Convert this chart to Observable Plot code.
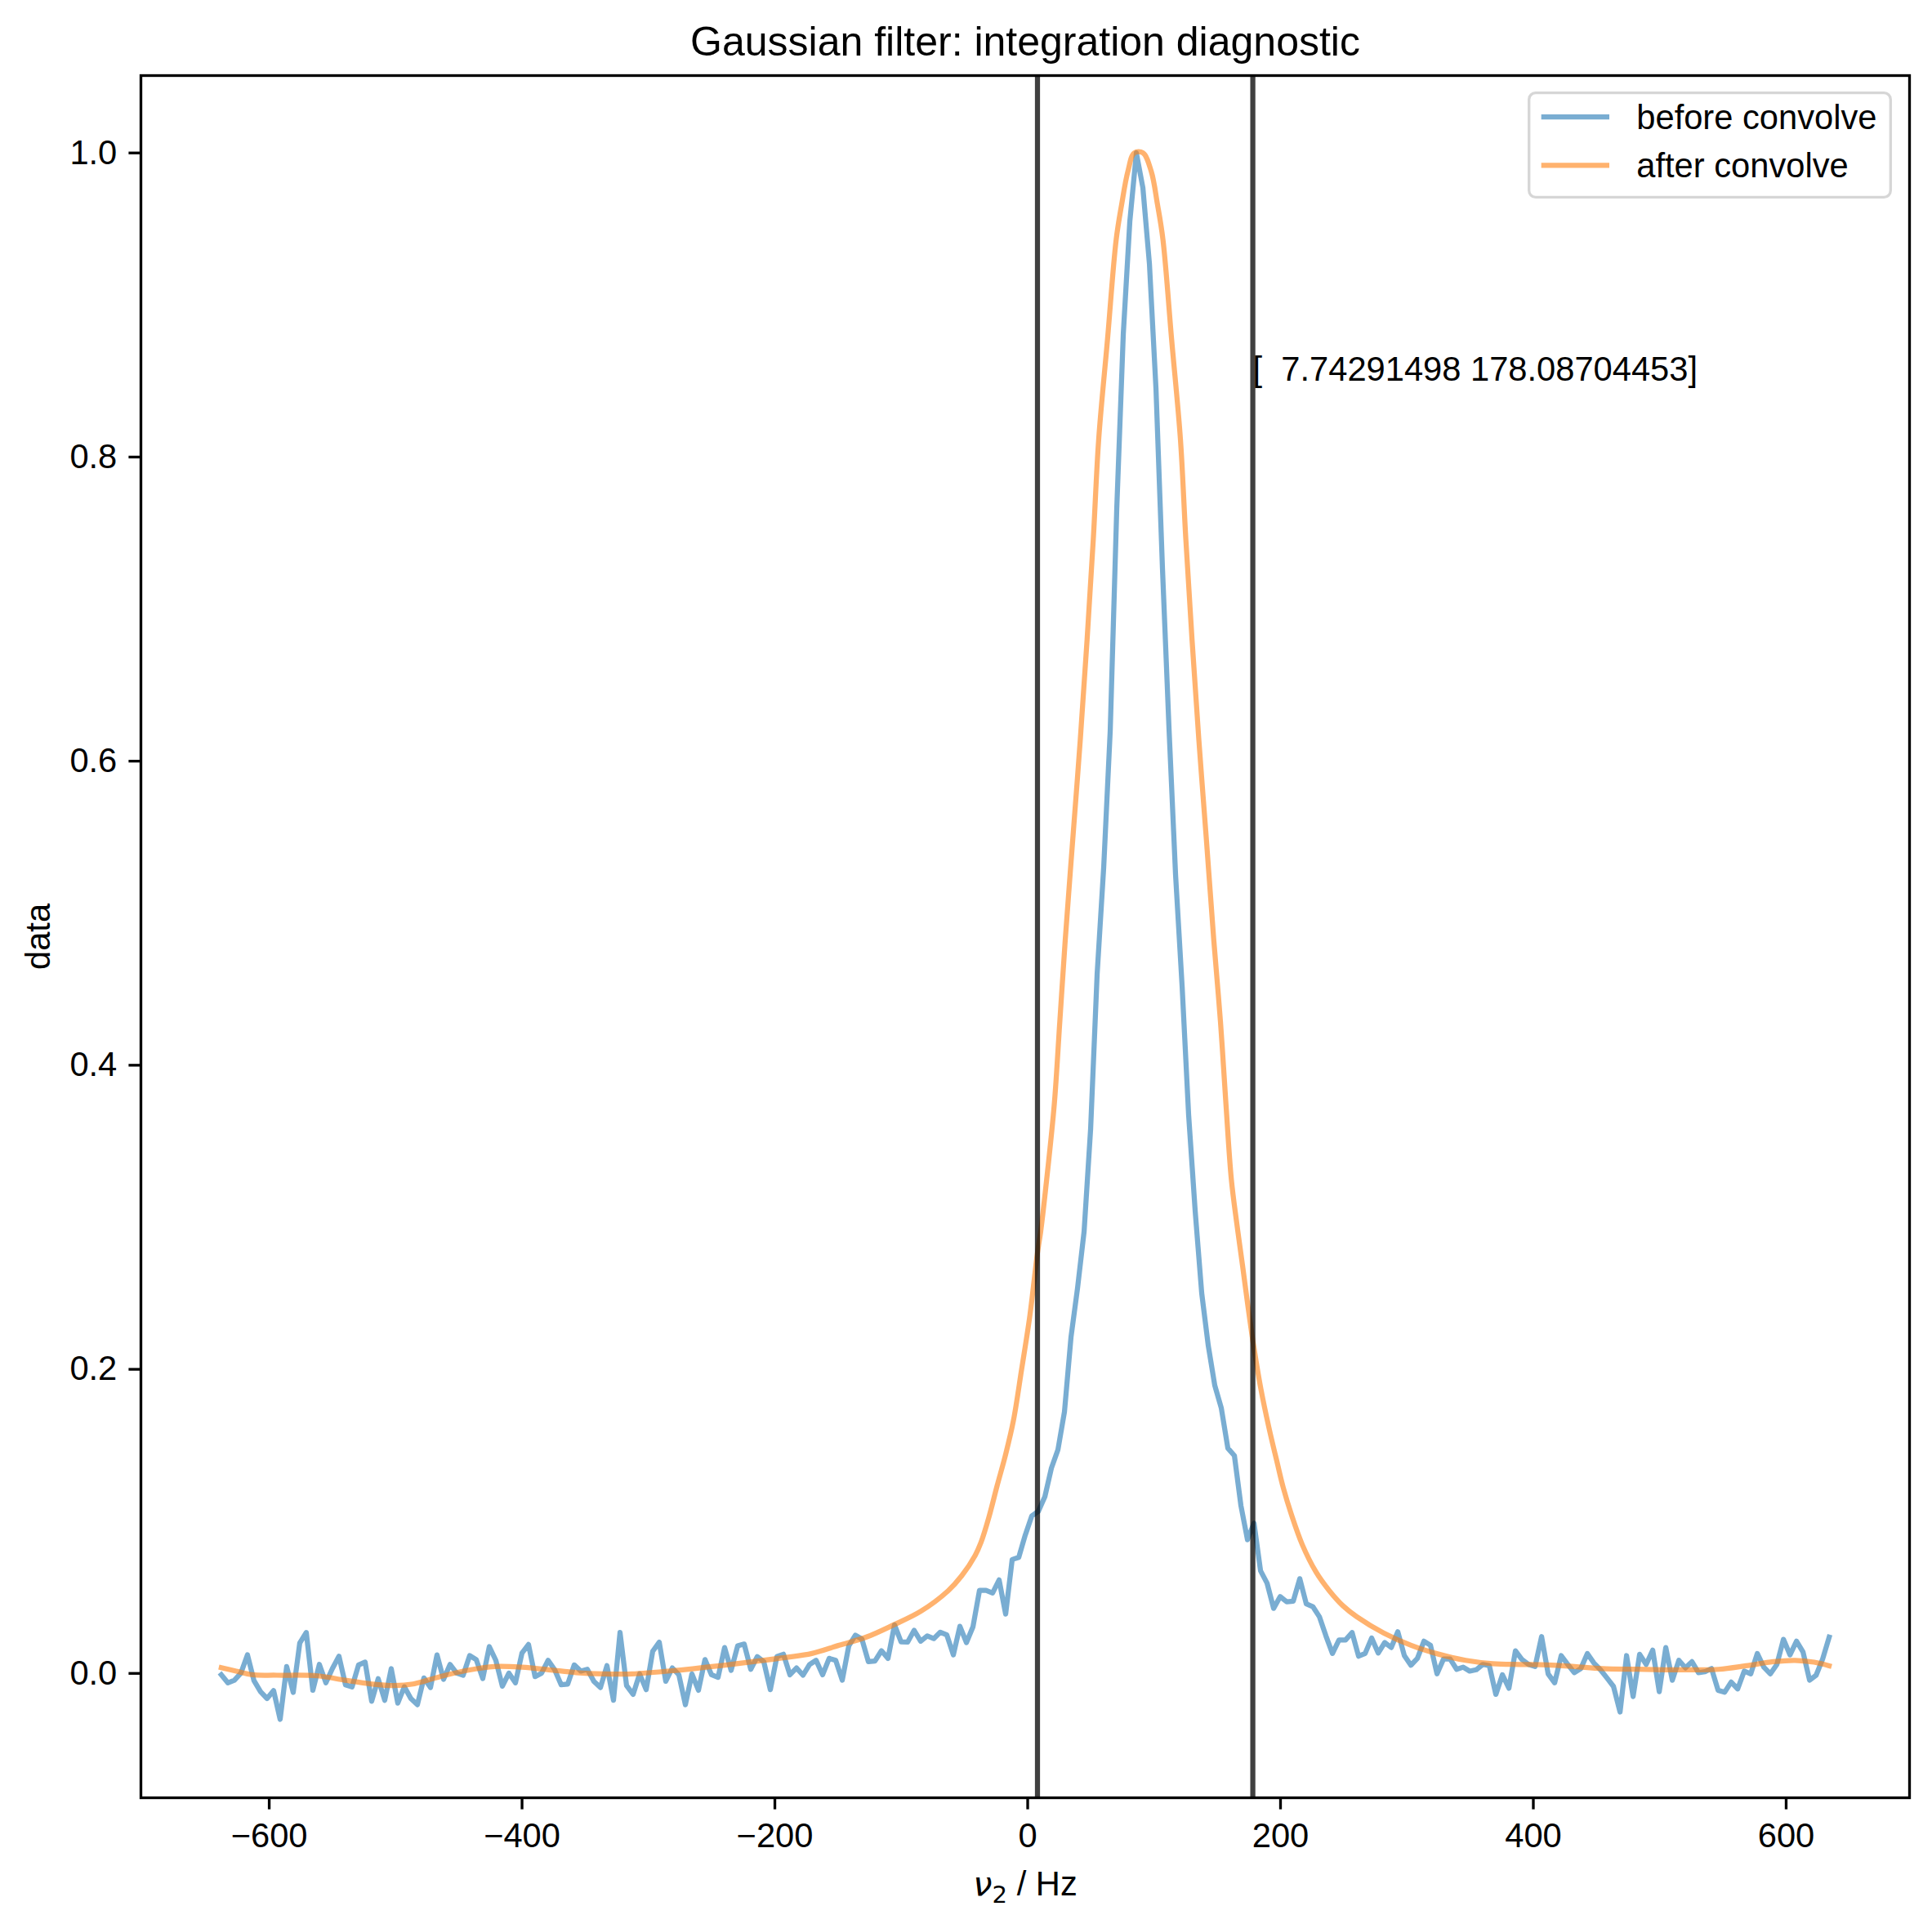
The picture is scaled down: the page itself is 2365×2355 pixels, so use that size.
<!DOCTYPE html>
<html>
<head>
<meta charset="utf-8">
<script src="https://cdn.jsdelivr.net/npm/d3@7"></script>
<script src="https://cdn.jsdelivr.net/npm/@observablehq/plot@0.6"></script>
<style>
  html, body { margin: 0; padding: 0; background: white; }
  #wrap { position: relative; width: 2365px; height: 2355px; font-family: "Liberation Sans", Arial, sans-serif; }
  #legend { position: absolute; left: 1870px; top: 112px; }
</style>
</head>
<body>
<div id="wrap"></div>
<script>
// ---------- data ----------
const titleText = "Gaussian filter: integration diagnostic";
const yLabelText = "data";
const xLabelText = "ν2 / Hz";

const xTicks = [-600, -400, -200, 0, 200, 400, 600];
const yTicks = [0.0, 0.2, 0.4, 0.6, 0.8, 1.0];

const seriesNames = ["before convolve", "after convolve"];
const seriesColors = ["#1f77b4", "#ff7f0e"];

// integration bounds (vertical lines + annotation)
const bounds = [7.74291498, 178.08704453];
const annotY = 0.85;

// "before convolve": evenly spaced frequency grid
const beforeStart = -637.9;
const beforeStep = 5.1705;
const beforeY = [
 -0.0009,-0.0062,-0.0045,0.0002,0.0122,-0.0048,-0.012,-0.0165,-0.0113,-0.0302,
 0.0045,-0.0125,0.0199,0.0269,-0.0111,0.0059,-0.0062,0.0032,0.0113,-0.0075,
 -0.0089,0.0056,0.0074,-0.0183,-0.0035,-0.0177,0.0031,-0.0195,-0.0088,-0.0165,
 -0.0206,-0.003,-0.0093,0.0122,-0.0039,0.0059,0.0002,-0.0012,0.0117,0.0091,
 -0.0034,0.0176,0.0086,-0.0084,0.0002,-0.0062,0.0134,0.019,-0.0021,0.0002,
 0.0086,0.0024,-0.0075,-0.007,0.0056,0.0015,0.0027,-0.0052,-0.0093,0.0051,
 -0.0177,0.0269,-0.008,-0.0138,-0.0003,-0.0107,0.0145,0.0206,-0.0052,0.0036,
 -0.0009,-0.0206,-0.0003,-0.0111,0.0091,-0.0009,-0.0026,0.017,0.002,0.0181,
 0.0193,0.0027,0.011,0.0077,-0.0107,0.011,0.0126,-0.0009,0.0036,-0.0012,
 0.0059,0.0086,-0.0009,0.0099,0.0086,-0.0045,0.0181,0.0251,0.0226,0.0077,
 0.0081,0.0149,0.0099,0.0319,0.0208,0.0206,0.0283,0.0212,0.0247,0.0229,
 0.0271,0.0253,0.0122,0.031,0.0203,0.0306,0.0546,0.0546,0.0529,0.0615,
 0.039,0.0749,0.0763,0.091,0.1036,0.1066,0.1162,0.135,0.1471,0.1721,
 0.2212,0.2534,0.2905,0.358,0.46,0.53,0.62,0.766,0.881,0.955,
 1.0,0.977,0.927,0.845,0.726,0.621,0.525,0.452,0.367,0.304,
 0.25,0.2156,0.1893,0.1744,0.1481,0.1432,0.1103,0.0879,0.0988,0.0675,
 0.0593,0.0428,0.0505,0.0471,0.0475,0.0623,0.0457,0.0439,0.0373,0.0247,
 0.0131,0.022,0.022,0.0269,0.0113,0.0131,0.0233,0.0134,0.0203,0.017,
 0.0274,0.0117,0.0054,0.0099,0.0212,0.0185,-0.0003,0.0095,0.0095,0.0027,
 0.0041,0.0015,0.0024,0.0059,0.0051,-0.0138,-0.0009,-0.0098,0.0149,0.0091,
 0.0059,0.0045,0.0242,-0.0003,-0.0062,0.0117,0.0059,0.0005,0.0032,0.0131,
 0.0068,0.0024,-0.003,-0.0086,-0.0254,0.0117,-0.0152,0.0126,0.0059,0.0153,
 -0.012,0.017,-0.0045,0.0086,0.0036,0.0077,0.0005,0.0011,0.0032,-0.0111,
 -0.0124,-0.0057,-0.0102,0.0015,-0.0003,0.0131,0.0041,-0.0003,0.0059,0.0224,
 0.0122,0.0212,0.014,-0.0045,-0.0012,0.0095,0.0239
];

// "after convolve": smooth curve sampled at these frequencies
const afterX = [-637.9,-626.2,-613.3,-593.9,-561.6,-540.1,-518.6,-501.4,-486.3,-464.8,
 -443.3,-421.7,-400.2,-378.7,-357.1,-335.6,-313.0,-278.3,-235.3,-192.2,
 -170.7,-149.1,-127.6,-106.1,-84.5,-63.0,-52.2,-41.5,-37.0,-30.6,
 -24.2,-17.7,-11.3,-4.8,1.7,7.7,10.3,15.7,21.1,25.4,
 29.7,35.6,41.6,47.0,51.9,56.2,63.1,70.0,74.3,79.3,
 84.3,91.2,97.7,102.7,107.0,113.9,120.8,125.1,130.0,135.4,
 141.4,147.2,152.5,156.8,161.1,165.4,170.0,174.0,178.1,184.5,
 191.0,197.4,202.1,208.6,217.2,228.0,238.7,249.5,260.3,281.8,
 303.3,324.9,346.4,368.0,389.5,411.0,432.6,454.1,482.1,503.7,
 525.2,546.7,568.3,589.8,607.0,622.1,634.0];
const afterY = [0.0038,0.0015,-0.0009,-0.0012,-0.0016,-0.0045,-0.007,-0.008,-0.007,-0.0021,
 0.002,0.0045,0.0041,0.0024,0.0005,-0.0003,-0.0003,0.002,0.0059,0.0104,
 0.0131,0.0185,0.0239,0.0319,0.0409,0.0543,0.0642,0.0777,0.086,0.103,
 0.1234,0.1432,0.1662,0.2,0.2352,0.2764,0.2907,0.3301,0.3749,0.4286,
 0.4824,0.548,0.614,0.68,0.746,0.812,0.877,0.943,0.966,0.988,
 1.0,1.0,0.988,0.966,0.943,0.877,0.812,0.746,0.68,0.614,
 0.548,0.4824,0.4286,0.3749,0.325,0.296,0.268,0.243,0.219,0.187,
 0.161,0.1385,0.1224,0.1045,0.0847,0.0668,0.0543,0.0444,0.0373,0.0265,
 0.0185,0.0127,0.0086,0.0064,0.0059,0.0056,0.0045,0.0032,0.0027,0.0024,
 0.0024,0.0027,0.005,0.0077,0.0086,0.0074,0.005];

// ---------- build tables ----------
const beforeData = beforeY.map((y, i) => ({x: beforeStart + i * beforeStep, y}));
const afterData = afterX.map((x, i) => ({x, y: afterY[i]}));
const annotText = "[\u00a0\u00a0" + bounds[0] + " " + bounds[1] + "]";

const FS = 41.67;       // 10pt @ 300dpi
const LW = 6.25;        // 1.5pt
const SW = 3.33;        // 0.8pt
const fmtX = d => (d < 0 ? "\u2212" + Math.abs(d) : String(d));

const chart = Plot.plot({
  width: 2365,
  height: 2355,
  marginLeft: 172,
  marginRight: 28,
  marginTop: 92,
  marginBottom: 155,
  style: {fontFamily: '"Liberation Sans", Arial, sans-serif', fontSize: FS + "px", color: "black", background: "white", overflow: "visible"},
  x: {domain: [-701.5, 697.6]},
  y: {domain: [-0.0818, 1.0509]},
  marks: [
    Plot.line(beforeData, {x: "x", y: "y", stroke: seriesColors[0], strokeOpacity: 0.6, strokeWidth: LW, strokeLinecap: "square", strokeLinejoin: "round"}),
    Plot.line(afterData, {x: "x", y: "y", curve: "catmull-rom", stroke: seriesColors[1], strokeOpacity: 0.6, strokeWidth: LW, strokeLinecap: "square", strokeLinejoin: "round"}),
    Plot.ruleX(bounds, {stroke: "black", strokeOpacity: 0.75, strokeWidth: LW}),
    Plot.text([annotText], {x: bounds[1], y: annotY, text: d => d, textAnchor: "start", lineAnchor: "bottom", fontSize: FS, fill: "black"}),
    Plot.frame({stroke: "black", strokeWidth: SW}),
    Plot.axisX({ticks: xTicks, tickFormat: fmtX, tickSize: 14.6, tickPadding: 16.4, strokeWidth: SW, label: null, fontSize: FS}),
    Plot.axisY({ticks: yTicks, tickFormat: d => d.toFixed(1), tickSize: 14.6, tickPadding: 14.6, strokeWidth: SW, label: null, fontSize: FS}),
    Plot.text([titleText], {frameAnchor: "top", dy: -25, textAnchor: "middle", lineAnchor: "bottom", text: d => d, fontSize: 50, fill: "black"}),
    Plot.text([yLabelText], {frameAnchor: "left", dx: -125, rotate: -90, textAnchor: "middle", lineAnchor: "middle", text: d => d, fontSize: FS, fill: "black"}),
    Plot.text([xLabelText], {frameAnchor: "bottom", dy: 119, textAnchor: "middle", lineAnchor: "bottom", text: d => d, fontSize: FS, fill: "black"})
  ]
});

// mathtext-like x label: italic nu with subscript 2
d3.select(chart).selectAll("text").filter(function() { return this.textContent === xLabelText; })
  .each(function() {
    const t = d3.select(this);
    t.text(null);
    t.append("tspan").attr("font-family", '"DejaVu Sans"').attr("font-style", "italic").text("ν");
    t.append("tspan").attr("font-family", '"DejaVu Sans"').attr("font-size", (FS * 0.7) + "px").attr("dy", "9").text("2");
    t.append("tspan").attr("dy", "-9").text(" / Hz");
  });

document.getElementById("wrap").appendChild(chart);

// legend (matplotlib style, upper right)
const legW = 446, legH = 131, rowH = 59.3, row0 = 31;
const leg = d3.select("#wrap").append("svg").attr("id", "legend")
  .attr("width", legW).attr("height", legH)
  .style("font-family", '"Liberation Sans", Arial, sans-serif');
leg.append("rect").attr("x", 1.7).attr("y", 1.7).attr("width", legW - 3.4).attr("height", legH - 3.4)
  .attr("rx", 8).attr("fill", "rgba(255,255,255,0.8)").attr("stroke", "rgba(204,204,204,0.8)").attr("stroke-width", 3.33);
seriesNames.forEach((name, i) => {
  const y = row0 + i * rowH;
  leg.append("line").attr("x1", 16.7).attr("x2", 100).attr("y1", y).attr("y2", y)
    .attr("stroke", seriesColors[i]).attr("stroke-opacity", 0.6).attr("stroke-width", LW).attr("stroke-linecap", "butt");
  leg.append("text").attr("x", 133.3).attr("y", y + 15).attr("font-size", FS + "px").attr("fill", "black").text(name);
});
</script>
</body>
</html>
